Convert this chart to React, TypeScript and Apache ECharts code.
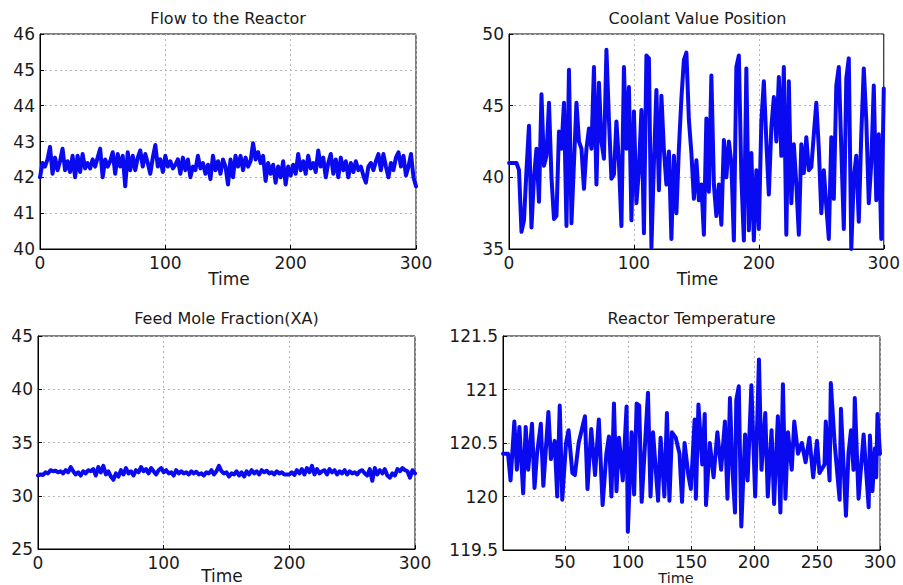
import { useEffect, useRef } from "react";
import * as echarts from "echarts";

// ---- data ----
const stepTime = Array.from({ length: 151 }, (_, i) => i * 2); // 0..300 every 2

const flowValues = [
  42.0, 42.4, 42.3, 42.5, 42.85, 42.1, 42.55, 42.2, 42.45, 42.8,
  42.2, 42.45, 42.15, 42.6, 42.0, 42.6, 42.15, 42.65, 42.25, 42.4,
  42.25, 42.5, 42.3, 42.55, 42.8, 42.0, 42.5, 42.3, 42.45, 42.7,
  42.1, 42.65, 42.3, 42.6, 41.75, 42.7, 42.2, 42.6, 42.2, 42.55,
  42.75, 42.3, 42.65, 42.4, 42.1, 42.55, 42.9, 42.3, 42.5, 42.15,
  42.6, 42.3, 42.45, 42.25, 42.35, 42.5, 42.1, 42.55, 42.2, 42.5,
  42.0, 42.3, 42.2, 42.6, 42.25, 42.4, 42.1, 42.35, 41.95, 42.6,
  42.2, 42.45, 42.1, 42.5, 42.3, 41.8, 42.5, 42.0, 42.6, 42.3,
  42.6, 42.2, 42.55, 42.3, 42.45, 42.95, 42.5, 42.7, 42.4, 42.6,
  41.9, 42.4, 42.1, 42.35, 41.85, 42.3, 42.0, 42.45, 41.8, 42.3,
  42.05, 42.35, 42.1, 42.65, 42.2, 42.45, 42.1, 42.6, 42.25, 42.4,
  42.15, 42.75, 42.3, 42.55, 42.0, 42.4, 42.65, 42.1, 42.5, 42.0,
  42.55, 42.2, 42.45, 42.0, 42.4, 42.15, 42.45, 42.2, 42.3, 42.05,
  41.85, 42.3, 42.4, 42.2, 42.45, 42.65, 42.2, 42.65, 42.3, 42.0,
  42.4, 42.2, 42.55, 42.7, 42.3, 42.6, 42.05, 42.3, 42.65, 42.0,
  41.75,
];

const coolantValues = [
  41.0, 41.0, 41.0, 41.0, 40.5, 36.2, 37.0, 40.5, 43.6, 36.5,
  40.0, 42.0, 38.3, 45.8, 40.8, 41.5, 45.2, 40.0, 37.1, 37.3,
  43.2, 42.0, 45.2, 36.6, 47.5, 36.8, 41.0, 45.2, 42.5, 42.0,
  39.2, 42.0, 43.4, 42.0, 47.7, 39.5, 46.6, 42.5, 41.3, 48.9,
  44.0, 39.9, 40.2, 43.9, 41.0, 36.6, 47.7, 42.0, 46.3, 37.0,
  44.6, 38.2, 40.5, 44.7, 36.1, 48.5, 48.3, 35.1, 41.0, 46.1,
  39.1, 45.7, 41.9, 39.5, 41.8, 35.7, 41.5, 37.5, 42.0, 45.5,
  48.2, 48.7, 44.0, 41.7, 38.5, 41.2, 38.4, 39.5, 36.0, 44.1,
  39.0, 47.1, 39.5, 37.3, 39.5, 36.7, 42.6, 40.0, 42.5, 41.0,
  35.6, 47.7, 48.5, 40.0, 35.6, 47.6, 36.3, 41.7, 35.6, 40.5,
  36.4, 43.9, 46.7, 42.5, 38.8, 43.5, 45.6, 42.5, 47.0, 41.5,
  47.7, 36.0, 46.7, 38.2, 42.3, 39.5, 36.0, 42.3, 40.3, 42.8,
  40.5, 40.7, 43.0, 45.2, 42.0, 37.5, 40.5, 38.0, 35.7, 42.8,
  38.5, 46.4, 47.7, 42.0, 36.4, 46.9, 48.3, 35.0, 40.0, 41.5,
  36.9, 43.0, 47.6, 44.0, 38.2, 41.0, 46.4, 38.4, 43.0, 35.7,
  46.2,
];

const feedValues = [
  31.9, 32.0, 31.95, 32.2, 32.1, 32.4, 32.3, 32.35, 32.2, 32.3,
  32.1, 32.4, 32.2, 32.7, 32.3, 32.0, 32.2, 31.9, 32.3, 32.1,
  32.4, 32.3, 32.5, 31.9, 32.7, 32.2, 32.8, 32.0, 32.3, 31.8,
  31.5, 32.1, 31.8, 32.4, 32.0, 32.6, 32.1, 32.3, 31.9, 32.4,
  32.2, 32.7, 32.3, 32.5, 32.1, 32.6, 32.3, 32.0, 32.4, 32.6,
  32.2, 32.4, 32.1, 32.2, 31.9, 32.4, 32.1, 32.3, 32.1, 32.2,
  32.0, 32.3, 32.1, 32.25, 32.0, 32.1, 31.9, 32.2, 32.1, 32.4,
  32.0, 32.3, 32.8, 32.3, 32.1, 32.2, 31.8, 32.1, 32.0, 32.3,
  31.9, 32.2, 31.8, 32.3, 32.0, 32.4, 32.1, 32.3, 32.0, 32.4,
  32.2, 32.35, 32.1, 32.2, 32.0, 32.3, 32.1, 32.2, 32.0, 32.0,
  32.0, 32.2, 31.95, 32.4, 32.1, 32.5, 32.0, 32.6, 32.2, 32.8,
  32.0, 32.5, 32.1, 32.3, 32.4, 32.0, 32.5, 32.2, 32.4, 32.0,
  32.3, 32.1, 32.4, 32.0, 32.3, 32.1, 32.2, 32.0, 32.3, 32.4,
  32.1, 31.9, 32.5, 31.4, 32.6, 32.0, 32.4, 32.1, 32.5, 31.9,
  31.7, 32.1, 31.9, 32.5, 32.3, 32.6, 32.4, 32.3, 31.7, 32.4,
  32.1,
];

const tempTime = [
  1, 5, 7, 10, 12, 14, 17, 19, 21, 24,
  26, 28, 31, 33, 37, 39, 42, 44, 46, 48,
  51, 53, 56, 58, 61, 66, 68, 71, 74, 77,
  80, 83, 85, 87, 89, 91, 93, 96, 99, 100,
  103, 105, 107, 109, 111, 116, 118, 120, 124, 126,
  129, 131, 133, 135, 138, 141, 143, 145, 148, 150,
  153, 154, 156, 159, 161, 162, 165, 168, 171, 174,
  177, 179, 181, 183, 185, 186, 188, 190, 193, 195,
  198, 201, 204, 206, 209, 211, 214, 216, 219, 221,
  223, 225, 227, 230, 232, 235, 238, 241, 244, 247,
  250, 252, 256, 257, 260, 261, 264, 268, 269, 273,
  275, 277, 279, 280, 283, 287, 291, 292, 294, 296,
  297, 298, 300,
];
const tempValues = [
  120.4, 120.4, 120.15, 120.7, 120.25, 120.65, 120.03, 120.65, 120.25, 120.68,
  120.08, 120.4, 120.68, 120.1, 120.79, 120.35, 120.52, 120.0, 120.85, 119.97,
  120.5, 120.62, 120.22, 120.2, 120.5, 120.75, 120.07, 120.63, 120.2, 120.72,
  119.92, 120.4, 120.56, 120.0, 120.87, 120.05, 120.55, 120.15, 120.84, 119.67,
  120.6, 120.02, 120.87, 120.85, 119.95, 120.97, 120.0, 120.6, 119.96, 120.55,
  120.0, 120.78, 119.96, 120.6, 120.55, 120.4, 119.95, 120.5, 120.2, 120.07,
  120.72, 119.98, 120.86, 120.3, 120.77, 119.92, 120.5, 120.18, 120.6, 120.25,
  120.7, 119.98, 120.92, 120.25, 119.85, 120.9, 121.03, 119.72, 120.58, 120.15,
  121.04, 120.0, 121.28, 120.25, 120.78, 120.0, 120.62, 119.93, 120.75, 119.85,
  121.05, 119.98, 120.6, 120.25, 120.7, 120.4, 120.5, 120.32, 120.55, 120.18,
  120.52, 120.22, 120.3, 120.7, 120.15, 121.06, 120.5, 119.97, 120.82, 119.82,
  120.4, 120.62, 120.25, 120.92, 119.98, 120.58, 119.9, 120.57, 120.05, 120.45,
  120.18, 120.77, 120.4,
];

const titles = [
  "Flow to the Reactor",
  "Coolant Value Position",
  "Feed Mole Fraction(XA)",
  "Reactor Temperature",
];
const xAxisTitle = "Time";
const xMins = [0, 0, 0, 1];
const xMaxs = [300, 300, 300, 300];
const xSteps = [100, 100, 100, 50];
const yMins = [40, 35, 25, 119.5];
const yMaxs = [46, 50, 45, 121.5];
const ySteps = [1, 5, 5, 0.5];

// ---- layout / style ----
const GRIDS = [
  { left: 40, top: 34, width: 376, height: 215 },
  { left: 509, top: 34, width: 377, height: 215 },
  { left: 38, top: 336, width: 377, height: 213 },
  { left: 503, top: 336, width: 377, height: 214 },
];
const TITLE_Y = [18.7, 18.7, 318.5, 318.5];
const XNAME_POS = [
  [229, 279],
  [697.5, 279],
  [222, 575.5],
  [676, 577.5],
];
const XNAME_SIZE = [17, 17, 17, 14.5];
const XLABEL_MARGIN = [5, 5, 5, 3];
const FONT = "DejaVu Sans";
const TXT = "#1a1a1a";
const LINE = "#0a0af0";

export default function App() {
  const ref = useRef<HTMLDivElement>(null);
  useEffect(() => {
    if (!ref.current) return;
    const chart = echarts.init(ref.current, undefined, { renderer: "svg" });
    const seriesData = [
      stepTime.map((t, i) => [t, flowValues[i]]),
      stepTime.map((t, i) => [t, coolantValues[i]]),
      stepTime.map((t, i) => [t, feedValues[i]]),
      tempTime.map((t, i) => [t, tempValues[i]]),
    ];
    const split = { show: true, lineStyle: { color: "#b5b5b5", type: [2, 3], width: 1 } };
    const xAxis = GRIDS.map((_, k) => {
      const base: any = {
        type: "value",
        gridIndex: k,
        min: xMins[k],
        max: xMaxs[k],
        axisLine: { show: true, lineStyle: { color: "#000", width: 1 } },
        axisTick: { show: true, inside: true, length: 4, lineStyle: { color: "#000" } },
        axisLabel: {
          fontFamily: FONT,
          fontSize: 17,
          color: TXT,
          margin: XLABEL_MARGIN[k],
          formatter: (v: number) => (v % xSteps[k] === 0 ? String(v) : ""),
        },
        splitLine: split,
      };
      if (xMins[k] % xSteps[k] === 0) base.interval = xSteps[k];
      else {
        base.splitNumber = 6;
        base.axisLabel.showMinLabel = false;
      }
      return base;
    });
    const yAxis = GRIDS.map((_, k) => ({
      type: "value",
      gridIndex: k,
      min: yMins[k],
      max: yMaxs[k],
      interval: ySteps[k],
      axisLine: { show: true, lineStyle: { color: "#000", width: 1 } },
      axisTick: { show: true, inside: true, length: 4, lineStyle: { color: "#000" } },
      axisLabel: { fontFamily: FONT, fontSize: 17, color: TXT, margin: 5 },
      splitLine: split,
    }));
    const graphic: any[] = [];
    GRIDS.forEach((g, k) => {
      graphic.push({
        type: "text",
        x: g.left + g.width / 2,
        y: TITLE_Y[k],
        style: {
          text: titles[k],
          fontFamily: FONT,
          fontSize: 16,
          fill: TXT,
          textAlign: "center",
          textVerticalAlign: "middle",
        },
      });
      graphic.push({
        type: "text",
        x: XNAME_POS[k][0],
        y: XNAME_POS[k][1],
        style: {
          text: xAxisTitle,
          fontFamily: FONT,
          fontSize: XNAME_SIZE[k],
          fill: TXT,
          textAlign: "center",
          textVerticalAlign: "middle",
        },
      });
    });
    chart.setOption({
      animation: false,
      backgroundColor: "#ffffff",
      grid: GRIDS.map((g) => ({
        ...g,
        show: true,
        borderColor: "#000",
        borderWidth: 1,
        backgroundColor: "transparent",
        containLabel: false,
      })),
      xAxis,
      yAxis,
      series: seriesData.map((d, k) => ({
        type: "line",
        xAxisIndex: k,
        yAxisIndex: k,
        data: d,
        showSymbol: false,
        symbol: "none",
        clip: true,
        lineStyle: { color: LINE, width: 4, join: "round", cap: "round" },
      })),
      graphic,
    });
    return () => chart.dispose();
  }, []);
  return (
    <div
      ref={ref}
      style={{ position: "absolute", left: 0, top: 0, width: 903, height: 585 }}
    />
  );
}
